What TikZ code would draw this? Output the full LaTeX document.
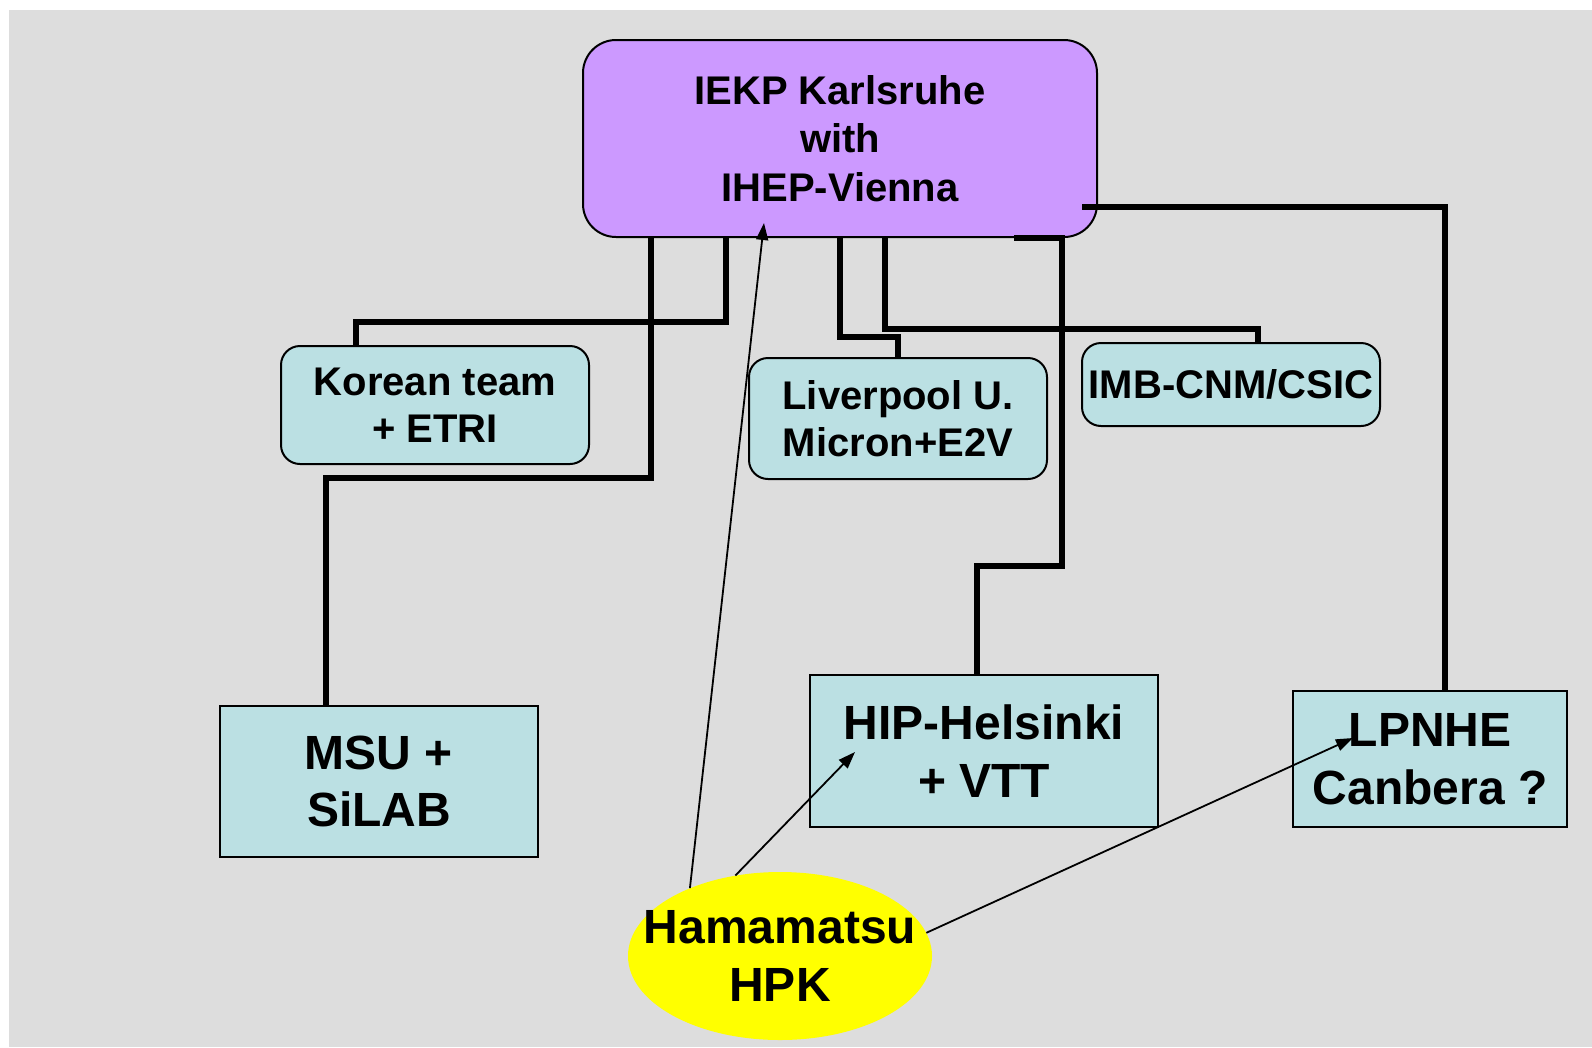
\documentclass[tikz,border=0pt]{standalone}
\usepackage{fontspec}
\setmainfont{Liberation Sans}
\usetikzlibrary{arrows.meta,shapes.geometric}
\definecolor{bggray}{HTML}{DDDDDD}
\definecolor{iekppurple}{HTML}{CC99FF}
\definecolor{boxblue}{HTML}{BBE0E3}
\definecolor{hpkyellow}{HTML}{FFFF00}
\begin{document}
\begin{tikzpicture}[x=1pt,y=-1pt,
  basebox/.style={draw=black, line width=2pt, align=center, inner sep=0pt},
  ibox/.style={basebox, fill=iekppurple, rounded corners=33pt,
    font=\fontsize{40}{48.2}\selectfont\bfseries},
  rbox/.style={basebox, fill=boxblue, rounded corners=19pt,
    font=\fontsize{40}{46.5}\selectfont\bfseries},
  sbox/.style={basebox, fill=boxblue,
    font=\fontsize{48}{57.5}\selectfont\bfseries},
  hpkshape/.style={ellipse, fill=hpkyellow, draw=none, inner sep=0pt},
  hpktext/.style={align=center, inner sep=0pt,
    font=\fontsize{48}{58}\selectfont\bfseries},
  conn/.style={draw=black, line width=5.5pt, line join=miter},
  thinarrow/.style={draw=black, line width=1.8pt,
    -{Triangle[length=17pt,width=12pt]}}
]
\useasboundingbox (0,0) rectangle (1592,1047);
\fill[bggray] (9,10) rectangle (1592,1047);

% nodes
\node[ibox, minimum width=514, minimum height=197] (iekp) at (840,138.5)
  {IEKP Karlsruhe\\with\\IHEP-Vienna};
\node[rbox, minimum width=308, minimum height=118] (korean) at (435,405)
  {Korean team\\+ ETRI};
\node[rbox, minimum width=298, minimum height=121] (liver) at (898,418.5)
  {Liverpool U.\\Micron+E2V};
\node[rbox, minimum width=298, minimum height=83] (imb) at (1231,384.5)
  {IMB-CNM/CSIC};
\node[sbox, minimum width=318, minimum height=151] (msu) at (379,781.5)
  {MSU +\\SiLAB};
\node[sbox, minimum width=348, minimum height=152] (hip) at (984,751)
  {HIP-Helsinki\\+ VTT};
\node[sbox, minimum width=274, minimum height=136] (lpnhe) at (1430,759)
  {LPNHE\\Canbera ?};
\node[hpkshape, minimum width=304, minimum height=168] (hpk) at (780,956) {};
\node[hpktext] (hpklabel) at (780,956) {Hamamatsu\\HPK};

% free ends
\coordinate (lpstart) at (1082,207);
\coordinate (tipA) at (764,223);
\coordinate (tipB) at (855,752);
\coordinate (tipC) at (1353,738);

% thick connectors
\draw[conn] (651,0 |- iekp.south) |- (326,478) -- (326,0 |- msu.north);
\draw[conn] (726,0 |- iekp.south) |- (356,322) -- (356,0 |- korean.north);
\draw[conn] (840,0 |- iekp.south) |- (898,337) -- (liver.north);
\draw[conn] (885,0 |- iekp.south) |- (1258,329) -- (1258,0 |- imb.north);
\draw[conn] (1014,0 |- iekp.south) -- (1062,0 |- iekp.south) |- (977,566)
  -- (977,0 |- hip.north);
\draw[conn] (lpstart) -| (1445,0 |- lpnhe.north);

% thin arrows from Hamamatsu
\draw[thinarrow] (hpk.143) -- (tipA);
\draw[thinarrow] (hpk.119) -- (tipB);
\draw[thinarrow] (hpk.9) -- (tipC);
\end{tikzpicture}
\end{document}
